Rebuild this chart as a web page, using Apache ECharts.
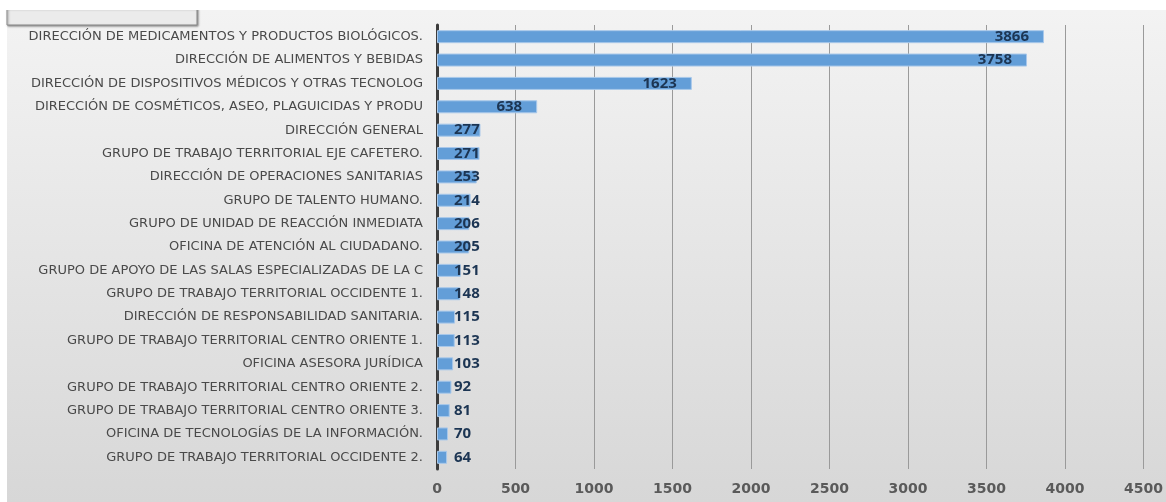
<!DOCTYPE html>
<html>
<head>
<meta charset="utf-8">
<script src="https://cdn.jsdelivr.net/npm/echarts@6/dist/echarts.min.js"></script>
<style>
  html, body { margin: 0; padding: 0; background: #fff; }
  #chart { width: 1166px; height: 502px; }
</style>
</head>
<body>
<div id="chart"></div>
<script>
const categories = [
  'DIRECCIÓN DE MEDICAMENTOS Y PRODUCTOS BIOLÓGICOS.',
  'DIRECCIÓN DE ALIMENTOS Y BEBIDAS',
  'DIRECCIÓN DE DISPOSITIVOS MÉDICOS Y OTRAS TECNOLOG',
  'DIRECCIÓN DE COSMÉTICOS, ASEO, PLAGUICIDAS Y PRODU',
  'DIRECCIÓN GENERAL',
  'GRUPO DE TRABAJO TERRITORIAL EJE CAFETERO.',
  'DIRECCIÓN DE OPERACIONES SANITARIAS',
  'GRUPO DE TALENTO HUMANO.',
  'GRUPO DE UNIDAD DE REACCIÓN INMEDIATA',
  'OFICINA DE ATENCIÓN AL CIUDADANO.',
  'GRUPO DE APOYO DE LAS SALAS ESPECIALIZADAS DE LA C',
  'GRUPO DE TRABAJO TERRITORIAL OCCIDENTE 1.',
  'DIRECCIÓN DE RESPONSABILIDAD SANITARIA.',
  'GRUPO DE TRABAJO TERRITORIAL CENTRO ORIENTE 1.',
  'OFICINA ASESORA JURÍDICA',
  'GRUPO DE TRABAJO TERRITORIAL CENTRO ORIENTE 2.',
  'GRUPO DE TRABAJO TERRITORIAL CENTRO ORIENTE 3.',
  'OFICINA DE TECNOLOGÍAS DE LA INFORMACIÓN.',
  'GRUPO DE TRABAJO TERRITORIAL OCCIDENTE 2.'
]
const values = [3866, 3758, 1623, 638, 277, 271, 253, 214, 206, 205, 151, 148, 115, 113, 103, 92, 81, 70, 64]
const xTicks = { min: 0, max: 4500, interval: 500 }

const chart = echarts.init(document.getElementById('chart'))

// short bars: label overflows to the right of the axis (like excel "inside end")
const barData = values.map(v => ({
  value: v,
  label: v < 400
    ? { position: 'insideLeft', distance: 17 }
    : { position: 'insideRight', distance: 15 }
}))

const option = {
  animation: false,
  backgroundColor: '#ffffff',
  graphic: [
    {
      type: 'rect',
      z: -10,
      shape: { x: 7, y: 10, width: 1159, height: 492 },
      style: {
        fill: new echarts.graphic.LinearGradient(0, 0, 0, 1, [
          { offset: 0, color: '#f3f3f3' },
          { offset: 1, color: '#d7d7d7' }
        ])
      }
    },
    {
      type: 'rect',
      z: -5,
      shape: { x: 7, y: 8, width: 190, height: 17 },
      style: { fill: '#ebebeb', stroke: '#8a8a8a', lineWidth: 1, shadowBlur: 2, shadowColor: 'rgba(0,0,0,0.4)', shadowOffsetX: 1, shadowOffsetY: 1 }
    },
    {
      // white strip above the chart panel hides the top of the box
      type: 'rect',
      z: -4,
      shape: { x: 0, y: 0, width: 1166, height: 10 },
      style: { fill: '#ffffff' }
    }
  ],
  grid: { left: 437, right: 14, top: 25, bottom: 33, containLabel: false },
  xAxis: {
    type: 'value',
    min: xTicks.min,
    max: xTicks.max,
    interval: xTicks.interval,
    axisLine: { show: false },
    axisTick: { show: false },
    splitLine: { show: true, lineStyle: { color: '#9a9a9a', width: 1 } },
    axisLabel: {
      margin: 13,
      color: '#5a5a5a',
      fontFamily: 'DejaVu Sans',
      fontSize: 14,
      fontWeight: 'bold',
      formatter: v => String(v)
    }
  },
  yAxis: {
    type: 'category',
    inverse: true,
    data: categories,
    axisLine: { show: true, lineStyle: { color: '#3c3c3c', width: 3 } },
    axisTick: { show: false },
    axisLabel: {
      margin: 14,
      color: '#4a4a4a',
      fontFamily: 'DejaVu Sans',
      fontSize: 13
    }
  },
  series: [
    {
      type: 'bar',
      data: barData,
      barWidth: 13,
      itemStyle: { color: '#639ed8', borderColor: '#a8c8ea', borderWidth: 1 },
      label: {
        show: true,
        color: '#1c3553',
        fontFamily: 'Open Sans',
        fontSize: 15,
        fontWeight: 'bold'
      }
    }
  ]
}

option && chart.setOption(option)
</script>
</body>
</html>
